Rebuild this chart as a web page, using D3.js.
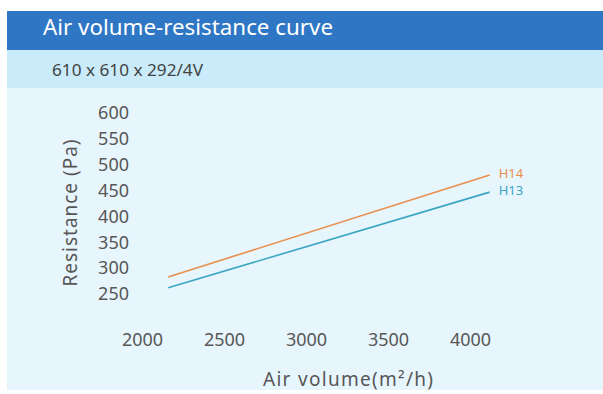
<!DOCTYPE html>
<html>
<head>
<meta charset="utf-8">
<script src="https://cdn.jsdelivr.net/npm/d3@7"></script>
<style>
  html, body { margin: 0; padding: 0; background: #ffffff; }
  svg { display: block; font-family: "Noto Sans", "Open Sans", sans-serif; }
</style>
</head>
<body>
<svg id="chart" width="603" height="394"></svg>
<script>
// Air volume (m³/h) end points and measured resistance (Pa) per filter grade
const airVolume = [2160, 4120];
const h14Resistance = [283, 480];
const h13Resistance = [262, 447];
const seriesNames = ["H14", "H13"];
const xTicks = [2000, 2500, 3000, 3500, 4000];
const yTicks = [250, 300, 350, 400, 450, 500, 550, 600];
const titleText = "Air volume-resistance curve";
const subtitleText = "610 x 610 x 292/4V";

const svg = d3.select("#chart");
const W = 603;

// panel backgrounds
svg.append("rect").attr("x", 7).attr("y", 11).attr("width", W - 7).attr("height", 379).attr("fill", "#e7f5fc");
svg.append("rect").attr("x", 7).attr("y", 50).attr("width", W - 7).attr("height", 38).attr("fill", "#c9ebfa");
svg.append("rect").attr("x", 7).attr("y", 11).attr("width", W - 7).attr("height", 39).attr("fill", "#2f77c4");

svg.append("text").attr("x", 43).attr("y", 35)
  .attr("fill", "#ffffff").attr("font-size", 22.3)
  .attr("textLength", 290).attr("lengthAdjust", "spacingAndGlyphs")
  .text(titleText);
svg.append("text").attr("x", 52).attr("y", 76)
  .attr("fill", "#444444").attr("font-size", 17)
  .attr("textLength", 151).attr("lengthAdjust", "spacingAndGlyphs")
  .text(subtitleText);

// scales
const x = d3.scaleLinear().domain([2000, 4000]).range([142, 470]);
const y = d3.scaleLinear().domain([250, 600]).range([294, 113]);

// axes: labels only, no domain lines or tick marks
const yAxis = svg.append("g").attr("transform", "translate(129,0)")
  .call(d3.axisLeft(y).tickValues(yTicks).tickSize(0).tickPadding(0).tickFormat(d3.format("d")));
yAxis.select(".domain").remove();
yAxis.selectAll("text").attr("font-size", 18).attr("fill", "#575757")
  .attr("font-family", "Noto Sans, sans-serif");

const xAxis = svg.append("g").attr("transform", "translate(0,333)")
  .call(d3.axisBottom(x).tickValues(xTicks).tickSize(0).tickPadding(0).tickFormat(d3.format("d")));
xAxis.select(".domain").remove();
xAxis.selectAll("text").attr("font-size", 18).attr("fill", "#575757")
  .attr("font-family", "Noto Sans, sans-serif");

// axis titles
svg.append("text")
  .attr("transform", "translate(77,213) rotate(-90)")
  .attr("text-anchor", "middle").attr("font-size", 19).attr("fill", "#575757")
  .attr("textLength", 147).attr("lengthAdjust", "spacing")
  .text("Resistance (Pa)");
svg.append("text")
  .attr("x", 348).attr("y", 386).attr("text-anchor", "middle")
  .attr("font-size", 19).attr("fill", "#575757")
  .attr("textLength", 170).attr("lengthAdjust", "spacing")
  .text("Air volume(m²/h)");

// series lines with end labels
const series = [
  { name: seriesNames[0], values: h14Resistance, color: "#e88f4d" },
  { name: seriesNames[1], values: h13Resistance, color: "#3aa6c2" }
];
const line = d3.line().x(d => x(d[0])).y(d => y(d[1]));

series.forEach(s => {
  const pts = airVolume.map((v, i) => [v, s.values[i]]);
  svg.append("path").attr("d", line(pts))
    .attr("fill", "none").attr("stroke", s.color).attr("stroke-width", 1.6);
  const last = pts[pts.length - 1];
  svg.append("text")
    .attr("x", x(last[0]) + 9).attr("y", y(last[1]) + 3)
    .attr("fill", s.color).attr("font-size", 13).text(s.name);
});
</script>
</body>
</html>
